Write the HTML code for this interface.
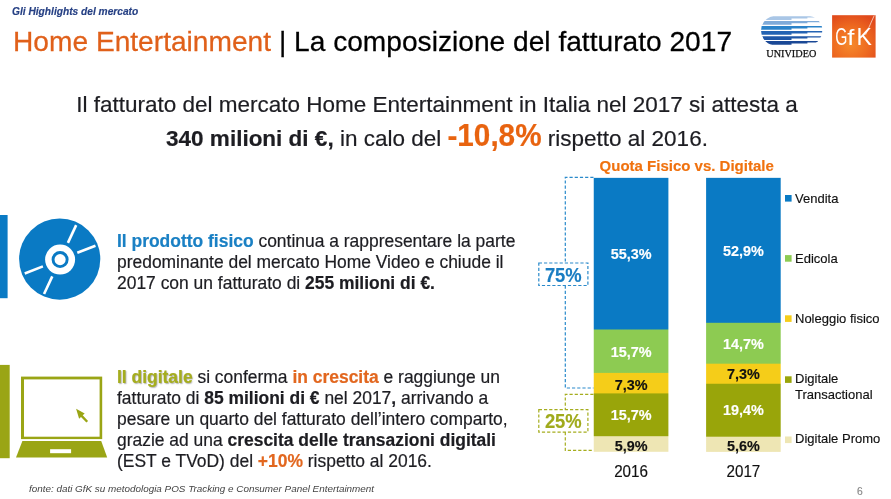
<!DOCTYPE html>
<html lang="it">
<head>
<meta charset="utf-8">
<title>Home Entertainment | La composizione del fatturato 2017</title>
<style>
html,body{margin:0;padding:0;background:#fff;}
body{-webkit-text-stroke:0.15px currentColor;width:891px;height:499px;position:relative;overflow:hidden;font-family:"Liberation Sans",Arial,sans-serif;color:#222;}
.abs{position:absolute;white-space:nowrap;}
#kicker{left:12px;top:6px;font:bold italic 10.2px/12px "Liberation Sans",sans-serif;color:#264084;}
#title{-webkit-text-stroke:0.25px currentColor;transform:scaleY(1.015);transform-origin:0 25.8px;left:13px;top:25.7px;font:normal 28.15px/32px "Liberation Sans",sans-serif;color:#000;}
#title .o{color:#e0601a;}
#lead{-webkit-text-stroke:0.2px currentColor;left:-0.5px;width:875px;top:88px;text-align:center;font:normal 22.5px/33.7px "Liberation Sans",sans-serif;color:#1d1d22;white-space:normal;}
#lead b{color:#1d1d22;}
#lead .big{display:inline-block;font-size:29.7px;font-weight:bold;color:#e8630f;line-height:20px;transform:scaleY(1.03);transform-origin:50% 20.3px;}
.para{-webkit-text-stroke:0.2px currentColor;left:117px;font:normal 17.45px/20.85px "Liberation Sans",sans-serif;color:#1d1d22;}
.para b{font-weight:bold;}
.blue{color:#1a80c4;}
.green{color:#a5ad1e;text-shadow:0.9px 0.6px 1.3px rgba(0,0,0,.32);}
.or{color:#e2671f;}
#p1{top:231.3px;}
#p2{top:367.4px;}
#src{-webkit-text-stroke:0;left:29px;top:483px;font:italic 9.9px/12px "Liberation Sans",sans-serif;color:#444;}
#pg{left:857px;top:485.6px;font:normal 10.3px/12px "Liberation Sans",sans-serif;color:#888;}
.seg{position:absolute;left:0;width:100%;}
.bar{position:absolute;width:75px;}
.lbl{transform:scaleY(1.04);transform-origin:50% 14px;position:absolute;white-space:nowrap;font:bold 14.4px/18px "Liberation Sans",sans-serif;text-align:center;width:74.6px;color:#fff;}
.pc{transform:scaleY(1.05);transform-origin:50% 17.5px;left:538.5px;width:49.6px;text-align:center;font:bold 18.4px/22px "Liberation Sans",sans-serif;}
.lbl.k{color:#111;}
.leg{position:absolute;white-space:nowrap;font:normal 13px/16px "Liberation Sans",sans-serif;color:#111;}
.sq{position:absolute;width:6.4px;height:6.4px;}
.yr{transform:scaleY(1.04);transform-origin:50% 14.3px;position:absolute;width:74.6px;text-align:center;font:normal 15.2px/18px "Liberation Sans",sans-serif;color:#111;}
#ctitle{left:599.6px;top:156.5px;font:bold 15px/18px "Liberation Sans",sans-serif;color:#f0720f;}
</style>
</head>
<body>
<div class="abs" id="kicker">Gli Highlights del mercato</div>
<div class="abs" id="title"><span class="o">Home Entertainment</span> | La composizione del fatturato 2017</div>

<div class="abs" id="lead">Il fatturato del mercato Home Entertainment in Italia nel 2017 si attesta a<br><b>340 milioni di €,</b> in calo del <span class="big">-10,8%</span> rispetto al 2016.</div>

<!-- left blocks -->
<svg style="position:absolute;left:0;top:210px" width="12" height="255" viewBox="0 210 12 255"><rect x="-1" y="215" width="8.6" height="83.2" fill="#0a7ac4"/><rect x="-1" y="364.9" width="10.7" height="93.3" fill="#9aa515"/></svg>
<svg style="position:absolute;left:15px;top:215px" width="90" height="90" viewBox="15 215 90 90">
  <circle cx="59.7" cy="259.1" r="40.6" fill="#0a7ac4"/>
  <g stroke="#fff" stroke-width="2.6" stroke-linecap="butt">
    <line x1="77.31" y1="252.82" x2="95.46" y2="245.67"/>
    <line x1="67.92" y1="242.83" x2="76.16" y2="225.16"/>
    <line x1="42.89" y1="266.38" x2="24.74" y2="273.53"/>
    <line x1="52.28" y1="276.37" x2="44.04" y2="294.04"/>
  </g>
  <circle cx="60.1" cy="259.6" r="15" fill="#fff"/>
  <circle cx="60.1" cy="259.6" r="7.05" fill="none" stroke="#0a7ac4" stroke-width="2.9"/>
</svg>

<div class="abs para" id="p1"><b class="blue">Il prodotto fisico</b> continua a rappresentare la parte<br>predominante del mercato Home Video e chiude il<br>2017 con un fatturato di <b>255 milioni di €.</b></div>

<svg style="position:absolute;left:14px;top:374px" width="96" height="86" viewBox="14 374 96 86">
  <rect x="21" y="376.6" width="81.2" height="62.5" fill="#9aa515"/>
  <rect x="24" y="379.4" width="75.6" height="57.3" fill="#fff"/>
  <polygon points="22.4,441.1 101.2,441.1 107.2,457.6 16,457.6" fill="#9aa515"/>
  <rect x="50.1" y="449.2" width="21" height="4" fill="#fff"/>
  <polygon points="76.1,408.7 84.7,413.5 82.7,415.3 88.1,420.9 86.4,422.6 81,417 79.1,418.7" fill="#9aa515"/>
</svg>

<div class="abs para" id="p2"><b class="green">Il digitale</b> si conferma <b class="or">in crescita</b> e raggiunge un<br>fatturato di <b>85 milioni di €</b> nel 2017<b>,</b> arrivando a<br>pesare un quarto del fatturato dell’intero comparto,<br>grazie ad una <b>crescita delle transazioni digitali</b><br>(EST e TVoD) del <b class="or">+10%</b> rispetto al 2016.</div>

<div class="abs" id="src">fonte: dati GfK su metodologia POS Tracking e Consumer Panel Entertainment</div>
<div class="abs" id="pg">6</div>

<!-- chart -->
<div class="abs" id="ctitle">Quota Fisico vs. Digitale</div>

<svg style="position:absolute;left:590px;top:170px" width="200" height="290" viewBox="590 170 200 290">
  <linearGradient id="b1" gradientUnits="userSpaceOnUse" x1="0" y1="177.85" x2="0" y2="451.8">
    <stop offset="0.00000" stop-color="#0a7ac4"/><stop offset="0.55174" stop-color="#0a7ac4"/>
    <stop offset="0.55539" stop-color="#8dcb52"/><stop offset="0.71017" stop-color="#8dcb52"/>
    <stop offset="0.71382" stop-color="#f5cd19"/><stop offset="0.78500" stop-color="#f5cd19"/>
    <stop offset="0.78865" stop-color="#99a50a"/><stop offset="0.94123" stop-color="#99a50a"/>
    <stop offset="0.94488" stop-color="#eee6b4"/><stop offset="1.00000" stop-color="#eee6b4"/>
  </linearGradient>
  <rect x="593.75" y="177.85" width="74.65" height="273.95" fill="url(#b1)"/>
  <linearGradient id="b2" gradientUnits="userSpaceOnUse" x1="0" y1="177.85" x2="0" y2="451.9">
    <stop offset="0.00000" stop-color="#0a7ac4"/><stop offset="0.52709" stop-color="#0a7ac4"/>
    <stop offset="0.53074" stop-color="#8dcb52"/><stop offset="0.67634" stop-color="#8dcb52"/>
    <stop offset="0.67999" stop-color="#f5cd19"/><stop offset="0.74950" stop-color="#f5cd19"/>
    <stop offset="0.75315" stop-color="#99a50a"/><stop offset="0.94271" stop-color="#99a50a"/>
    <stop offset="0.94636" stop-color="#eee6b4"/><stop offset="1.00000" stop-color="#eee6b4"/>
  </linearGradient>
  <rect x="706.1" y="177.85" width="74.6" height="274.05" fill="url(#b2)"/>
</svg>

<div class="lbl" style="left:593.75px;top:245px">55,3%</div>
<div class="lbl" style="left:593.75px;top:343.2px">15,7%</div>
<div class="lbl k" style="left:593.75px;top:375.7px">7,3%</div>
<div class="lbl" style="left:593.75px;top:406.2px">15,7%</div>
<div class="lbl k" style="left:593.75px;top:436.5px">5,9%</div>

<div class="lbl" style="left:706.1px;top:242px">52,9%</div>
<div class="lbl" style="left:706.1px;top:335.2px">14,7%</div>
<div class="lbl k" style="left:706.1px;top:365.2px">7,3%</div>
<div class="lbl" style="left:706.1px;top:401.4px">19,4%</div>
<div class="lbl k" style="left:706.1px;top:437px">5,6%</div>

<div class="yr" style="left:593.75px;top:463px">2016</div>
<div class="yr" style="left:706.1px;top:463px">2017</div>

<!-- brackets -->
<svg style="position:absolute;left:530px;top:170px" width="70" height="290" viewBox="530 170 70 290" fill="none">
  <path d="M593.5,177.4 H565.3 V263" stroke="#2a8acb" stroke-width="1.2" stroke-dasharray="3.2 2"/>
  <path d="M565.3,285.5 V388 H593.5" stroke="#2a8acb" stroke-width="1.2" stroke-dasharray="3.2 2"/>
  <rect x="538.8" y="263" width="49.1" height="22.5" stroke="#2a8acb" stroke-width="1.2" stroke-dasharray="3.2 2" fill="#fff"/>
  <path d="M593.5,394.4 H565.3 V409.6" stroke="#a5ad1e" stroke-width="1.2" stroke-dasharray="3.2 2"/>
  <path d="M565.3,432.1 V450.4 H593.5" stroke="#a5ad1e" stroke-width="1.2" stroke-dasharray="3.2 2"/>
  <rect x="538.8" y="409.6" width="49.1" height="22.5" stroke="#a5ad1e" stroke-width="1.2" stroke-dasharray="3.2 2" fill="#fff"/>
</svg>
<div class="abs pc" style="top:265.4px;color:#1a7dc2;">75%</div>
<div class="abs pc" style="top:410.9px;color:#a0aa1c;">25%</div>

<!-- legend -->
<svg style="position:absolute;left:780px;top:190px" width="16" height="260" viewBox="780 190 16 260"><rect x="785" y="195" width="6.6" height="6.6" fill="#0a7ac4"/><rect x="785" y="255.1" width="6.6" height="6.6" fill="#8dcb52"/><rect x="785" y="315.3" width="6.6" height="6.6" fill="#f5cd19"/><rect x="785" y="376.3" width="6.6" height="6.6" fill="#99a50a"/><rect x="785" y="436.5" width="6.6" height="6.6" fill="#eee6b4"/></svg>
<div class="leg" style="left:795px;top:191px">Vendita</div>
<div class="leg" style="left:795px;top:250.7px">Edicola</div>
<div class="leg" style="left:795px;top:311px">Noleggio fisico</div>
<div class="leg" style="left:795px;top:371px;line-height:15.6px">Digitale<br>Transactional</div>
<div class="leg" style="left:795px;top:431.2px">Digitale Promo</div>

<!-- logos -->
<svg style="position:absolute;left:755px;top:8px" width="75" height="55" viewBox="755 8 75 55">
  <defs><clipPath id="uvc"><rect x="761" y="15.7" width="61.4" height="29.8" rx="15.5" ry="14.9"/></clipPath></defs>
  <g clip-path="url(#uvc)">
    <path d="M755,16.2 H822.5 V17.5 H807.4 V18.5 H791.5 V19.9 H755 Z" fill="#a9c6e6"/>
    <path d="M755,21.0 H822.5 V22.3 H807.4 V23.3 H791.5 V24.7 H755 Z" fill="#7fabd9"/>
    <path d="M755,26.1 H822.5 V27.4 H807.4 V28.4 H791.5 V29.8 H755 Z" fill="#2b83c9"/>
    <path d="M755,31.1 H822.5 V32.4 H807.4 V33.4 H791.5 V34.8 H755 Z" fill="#2463b3"/>
    <path d="M755,36.2 H822.5 V37.5 H807.4 V38.5 H791.5 V39.9 H755 Z" fill="#1f56a6"/>
    <path d="M755,41.1 H822.5 V42.4 H807.4 V43.4 H791.5 V44.8 H755 Z" fill="#1a4896"/>
  </g>
  <text x="766.3" y="56.5" font-family="Liberation Serif, serif" font-size="10.3" fill="#111" stroke="#111" stroke-width="0.25" textLength="50" lengthAdjust="spacingAndGlyphs">UNIVIDEO</text>
</svg>
<svg style="position:absolute;left:826px;top:8px" width="60" height="55" viewBox="826 8 60 55">
  <defs>
    <radialGradient id="gfkg" cx="0.42" cy="0.68" r="0.75">
      <stop offset="0" stop-color="#f68a2c"/>
      <stop offset="0.55" stop-color="#ee6a20"/>
      <stop offset="1" stop-color="#e04a1c"/>
    </radialGradient>
  </defs>
  <rect x="832.1" y="15.2" width="43.5" height="42.4" fill="url(#gfkg)"/>
  <g font-family="Liberation Sans, sans-serif" font-size="23" fill="#fff" style="-webkit-text-stroke:0">
    <text transform="translate(835.2,44.9) scale(0.68,1)">G</text>
    <text transform="translate(847.2,44.9) scale(1.12,1)">f</text>
    <text transform="translate(856.4,44.9)">K</text>
  </g>
  <line x1="865.6" y1="34.8" x2="874.2" y2="15.6" stroke="#fff" stroke-width="0.7" opacity="0.9"/>
</svg>
</body>
</html>
